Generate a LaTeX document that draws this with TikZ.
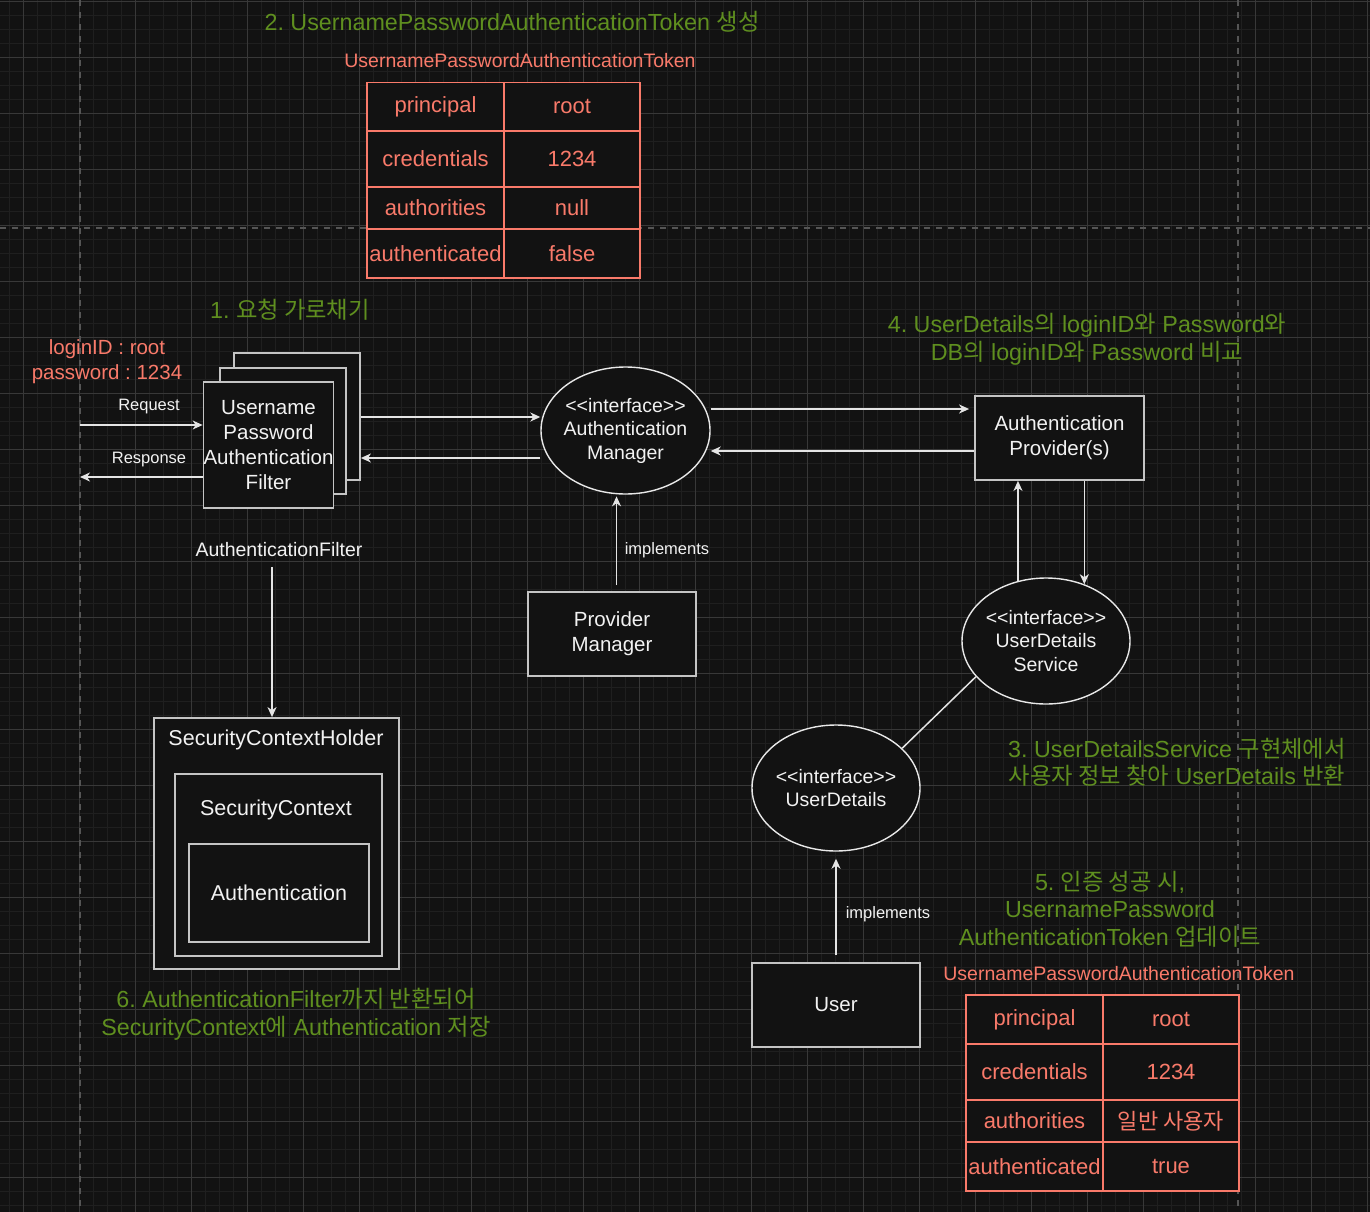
\documentclass[tikz,border=0pt]{standalone}
\usepackage{fontspec}
\setmainfont{Liberation Sans}
\newfontfamily\krfont{Noto Sans CJK KR}
\newcommand\ko[1]{{\krfont #1}}
\newcommand\fsz[2]{\fontsize{#1}{#2}\selectfont}
\newcommand\ltlt{<\kern0pt<}
\newcommand\gtgt{>\kern0pt>}
\frenchspacing
\usetikzlibrary{shapes.geometric,arrows.meta,calc}
\definecolor{bg}{HTML}{121212}
\definecolor{gminor}{HTML}{1F1F1F}
\definecolor{gmajor}{HTML}{383838}
\definecolor{dashc}{HTML}{555555}
\definecolor{boxc}{HTML}{C4C4C4}
\definecolor{ellc}{HTML}{E8E8E8}
\definecolor{txtw}{HTML}{F2F2F2}
\definecolor{arrc}{HTML}{E4E4E4}
\definecolor{salmon}{HTML}{F97A6A}
\definecolor{greent}{HTML}{5F8F1F}
\tikzset{
  box/.style={draw=boxc, line width=1.8pt, fill=bg, text=txtw, align=center, inner sep=0pt, font=\fsz{20.5}{25}},
  cont/.style={draw=boxc, line width=1.8pt, fill=bg, inner sep=0pt},
  ell/.style={ellipse, draw=ellc, line width=1.4pt, fill=bg, inner sep=0pt},
  elltxt/.style={text=txtw, align=center, inner sep=0pt, font=\fsz{19.5}{23.5}},
  cell/.style={draw=salmon, line width=1.5pt, fill=bg, text=salmon, inner sep=0pt, font=\fsz{22}{26}},
  arr/.style={draw=arrc, line width=1.5pt, -{Stealth[length=10pt,width=9pt,inset=3pt]}},
  plainln/.style={draw=arrc, line width=1.5pt},
  greentxt/.style={text=greent, align=center, inner sep=0pt, font=\fsz{23.3}{27.5}},
  redtxt/.style={text=salmon, align=center, inner sep=0pt, font=\fsz{20.5}{25}},
  redlbl/.style={text=salmon, inner sep=0pt, font=\fsz{19.5}{23}},
  wsmall/.style={text=txtw, inner sep=0pt, font=\fsz{16.5}{20}},
  wlbl/.style={text=txtw, align=center, inner sep=0pt, font=\fsz{21.5}{26}},
}
\begin{document}
\begin{tikzpicture}[x=1pt,y=-1pt]
\useasboundingbox (0,0) rectangle (1370,1212);
\fill[bg] (0,0) rectangle (1370,1212);
% grid
\foreach \i in {0,...,97} { \draw[gminor, line width=1pt] ({9.3+14*\i},0) -- ({9.3+14*\i},1212); }
\foreach \i in {0,...,86} { \draw[gminor, line width=1pt] (0,{1.5+14*\i}) -- (1370,{1.5+14*\i}); }
\foreach \i in {0,...,24} { \draw[gmajor, line width=1pt] ({23.3+56*\i},0) -- ({23.3+56*\i},1212); }
\foreach \i in {0,...,21} { \draw[gmajor, line width=1pt] (0,{1.5+56*\i}) -- (1370,{1.5+56*\i}); }
% dashed guides
\draw[dashc, line width=1.5pt, dash pattern=on 6pt off 6pt] (0,228) -- (1370,228);
\draw[dashc, line width=1.5pt, dash pattern=on 6pt off 6pt] (80,0) -- (80,1212);
\draw[dashc, line width=1.5pt, dash pattern=on 6pt off 6pt] (1238,0) -- (1238,1212);

% top token
\node[greentxt] (g2) at (512,22) {2. UsernamePasswordAuthenticationToken \ko{생성}};
\node[redlbl] (tok1) at (520,61) {UsernamePasswordAuthenticationToken};
\node[cell, minimum width=137pt, minimum height=48.3pt] (t1a) at (435.5,106.85) {principal};
\node[cell, minimum width=136pt, minimum height=48.3pt] (t1b) at (572,106.85) {root};
\node[cell, minimum width=137pt, minimum height=56pt] (t1c) at (435.5,159) {credentials};
\node[cell, minimum width=136pt, minimum height=56pt] (t1d) at (572,159) {1234};
\node[cell, minimum width=137pt, minimum height=42pt] (t1e) at (435.5,208) {authorities};
\node[cell, minimum width=136pt, minimum height=42pt] (t1f) at (572,208) {null};
\node[cell, minimum width=137pt, minimum height=49pt] (t1g) at (435.5,253.5) {authenticated};
\node[cell, minimum width=136pt, minimum height=49pt] (t1h) at (572,253.5) {false};

% filter
\node[greentxt] (g1) at (290,310) {1. \ko{요청 가로채기}};
\node[redtxt] (login) at (107,362) {loginID : root\\password : 1234};
\node[cont, minimum width=126pt, minimum height=127pt] (back) at (297,416.5) {};
\node[cont, minimum width=126pt, minimum height=126pt] (mid) at (283,431) {};
\node[box, minimum width=127pt, minimum height=126pt] (front) at (268.5,445) {Username\\Password\\Authentication\\Filter};
\node[wsmall] (reql) at (149,407) {Request};
\node[wsmall] (resl) at (149,460) {Response};
\coordinate (reqS) at (80,425);
\coordinate (resE) at (80,477);
\draw[arr] (reqS) -- (reqS -| front.west);
\draw[arr] (resE -| front.west) -- (resE);

% auth manager
\node[ell, minimum width=169pt, minimum height=127pt,
  label={[elltxt]center:{\ltlt interface\gtgt\\Authentication\\Manager}}] (am) at (625.5,430.5) {};
\draw[arr] (back.east |- 0,417) -- (am.west |- 0,417);
\draw[arr] (am.west |- 0,458) -- (back.east |- 0,458);

% provider
\node[greentxt] (g4) at (1087,339.5) {4. UserDetails\ko{의} loginID\ko{와} Password\ko{와}\\DB\ko{의} loginID\ko{와} Password \ko{비교}};
\node[box, minimum width=169pt, minimum height=84pt] (ap) at (1059.5,438) {Authentication\\Provider(s)};
\draw[arr, shorten >=5pt] (am.east |- 0,409) -- (ap.west |- 0,409);
\draw[arr] (ap.west |- 0,451) -- (am.east |- 0,451);

% provider manager
\node[box, minimum width=168pt, minimum height=84pt] (pm) at (612,634) {Provider\\Manager};
\draw[arr, shorten <=6pt, shorten >=2pt] (pm.north -| am.262) -- (am.262);
\node[wsmall] (impl1) at (667,550) {implements};

% filter -> security context
\node[wlbl, font=\fsz{19.5}{23}] (afl) at (279,550) {AuthenticationFilter};
\node[cont, minimum width=245pt, minimum height=251pt] (sch) at (276.5,843.5) {};
\node[wlbl] (schl) at (276,740) {SecurityContextHolder};
\node[cont, minimum width=207pt, minimum height=182pt] (sc) at (278.5,865) {};
\node[wlbl] (scl) at (276,810) {SecurityContext};
\node[box, font=\fsz{21.5}{26}, minimum width=180pt, minimum height=98pt] (auth) at (279,893) {Authentication};
\draw[arr] (afl.south -| 272,0) ++(0,10) -- (sch.north -| 272,0);
\node[greentxt] (g6) at (296,1014) {6. AuthenticationFilter\ko{까지 반환되어}\\SecurityContext\ko{에} Authentication \ko{저장}};

% user details service
\node[ell, minimum width=168pt, minimum height=126pt,
  label={[elltxt]center:{\ltlt interface\gtgt\\UserDetails\\Service}}] (uds) at (1046,641) {};
\draw[arr] (uds.115) -- (uds.115 |- ap.south);
\draw[arr] (ap.south -| uds.56) -- (uds.56);
\node[greentxt] (g3) at (1177,762.5) {3. UserDetailsService \ko{구현체에서}\\\ko{사용자 정보 찾아} UserDetails \ko{반환}};

% user details
\node[ell, minimum width=168pt, minimum height=126pt,
  label={[elltxt]center:{\ltlt interface\gtgt\\UserDetails}}] (ud) at (836,788) {};
\draw[plainln] (uds.207) -- (ud.31);
\node[box, minimum width=168pt, minimum height=84pt] (user) at (836,1005) {User};
\draw[arr, shorten <=7pt, shorten >=7pt] (user.north) -- (ud.south);
\node[wsmall] (impl2) at (888,914) {implements};

% bottom token
\node[greentxt] (g5) at (1110,909) {5. \ko{인증 성공 시},\\UsernamePassword\\AuthenticationToken \ko{업데이트}};
\node[redlbl] (tok2) at (1119,974) {UsernamePasswordAuthenticationToken};
\node[cell, minimum width=137pt, minimum height=49pt] (t2a) at (1034.5,1019.5) {principal};
\node[cell, minimum width=136pt, minimum height=49pt] (t2b) at (1171,1019.5) {root};
\node[cell, minimum width=137pt, minimum height=56pt] (t2c) at (1034.5,1072) {credentials};
\node[cell, minimum width=136pt, minimum height=56pt] (t2d) at (1171,1072) {1234};
\node[cell, minimum width=137pt, minimum height=42pt] (t2e) at (1034.5,1121) {authorities};
\node[cell, minimum width=136pt, minimum height=42pt] (t2f) at (1171,1121) {\ko{일반 사용자}};
\node[cell, minimum width=137pt, minimum height=49pt] (t2g) at (1034.5,1166.5) {authenticated};
\node[cell, minimum width=136pt, minimum height=49pt] (t2h) at (1171,1166.5) {true};
\end{tikzpicture}
\end{document}
